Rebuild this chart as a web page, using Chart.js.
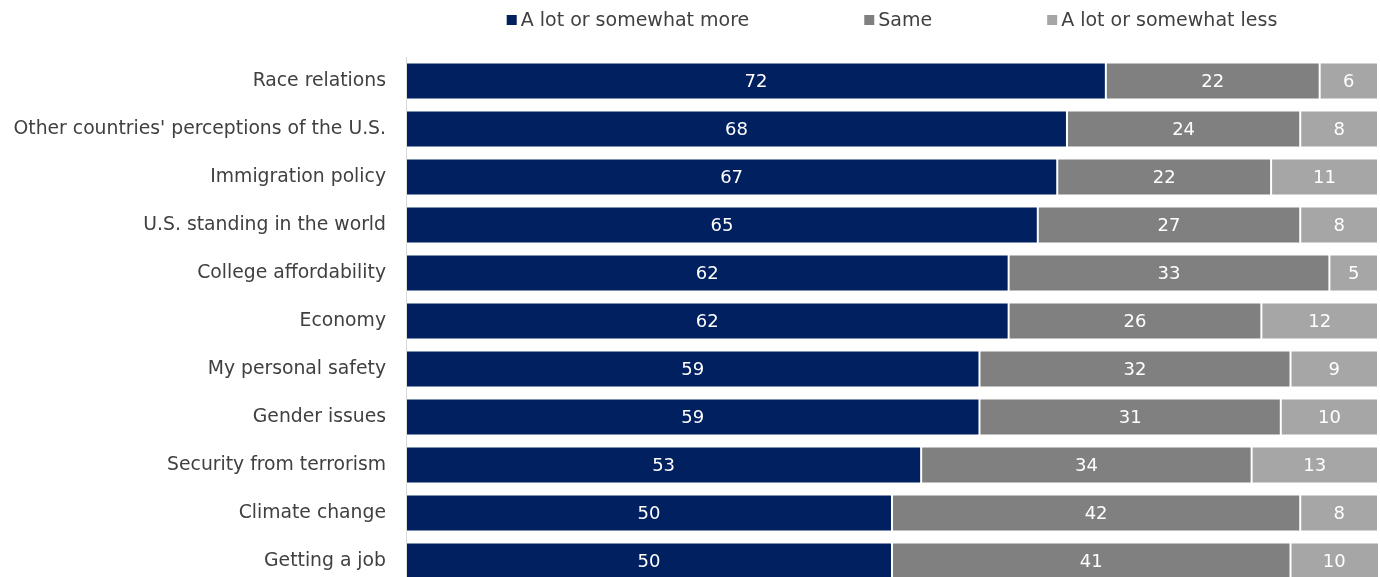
<!DOCTYPE html>
<html>
<head>
<meta charset="utf-8">
<script src="https://cdn.jsdelivr.net/npm/chart.js@4"></script>
<style>
  html, body { margin: 0; padding: 0; background: #fff; overflow: hidden; }
  canvas { display: block; }
</style>
</head>
<body>
<canvas id="graficoTemas" width="1380" height="585"></canvas>
<script>
// Temas e percentuais de cada resposta
const temas = [
  "Race relations",
  "Other countries' perceptions of the U.S.",
  "Immigration policy",
  "U.S. standing in the world",
  "College affordability",
  "Economy",
  "My personal safety",
  "Gender issues",
  "Security from terrorism",
  "Climate change",
  "Getting a job"
];
const maisImportante = [72, 68, 67, 65, 62, 62, 59, 59, 53, 50, 50];
const igual = [22, 24, 22, 27, 33, 26, 32, 31, 34, 42, 41];
const menosImportante = [6, 8, 11, 8, 5, 12, 9, 10, 13, 8, 10];

const rotulosSeries = ["A lot or somewhat more", "Same", "A lot or somewhat less"];
const coresSeries = ["#002060", "#808080", "#a6a6a6"];

const fonte = '"DejaVu Sans", sans-serif';

// Legenda desenhada no topo, centralizada sobre a área das barras
const legendaTopo = {
  id: "legendaTopo",
  afterDraw(chart) {
    const ctx = chart.ctx;
    const area = chart.chartArea;
    ctx.save();
    ctx.font = "19px " + fonte;
    ctx.textBaseline = "middle";
    const espaco = 115;
    const larguras = chart.data.datasets.map(ds => 14 + ctx.measureText(ds.label).width);
    const total = larguras.reduce((s, w) => s + w, 0) + espaco * (larguras.length - 1);
    let x = (area.left + area.right) / 2 - total / 2;
    const y = 20;
    chart.data.datasets.forEach((ds, i) => {
      ctx.fillStyle = ds.backgroundColor;
      ctx.fillRect(x, y - 5, 10, 10);
      ctx.fillStyle = "#404040";
      ctx.fillText(ds.label, x + 14, y + 1);
      x += larguras[i] + espaco;
    });
    ctx.restore();
  }
};

// Valores brancos no meio de cada segmento
const valoresNasBarras = {
  id: "valoresNasBarras",
  afterDatasetsDraw(chart) {
    const ctx = chart.ctx;
    ctx.save();
    ctx.font = "18px " + fonte;
    ctx.fillStyle = "#ffffff";
    ctx.textAlign = "center";
    ctx.textBaseline = "middle";
    chart.data.datasets.forEach((ds, i) => {
      chart.getDatasetMeta(i).data.forEach((barra, j) => {
        const cx = Math.min((barra.x + barra.base) / 2, (barra.base + chart.chartArea.right) / 2);
        ctx.fillText(ds.data[j], cx, barra.y + 1);
      });
    });
    ctx.restore();
  }
};

const graficoTemas = new Chart(document.getElementById("graficoTemas").getContext("2d"), {
  type: "bar",
  data: {
    labels: temas,
    datasets: [
      { label: rotulosSeries[0], data: maisImportante, backgroundColor: coresSeries[0] },
      { label: rotulosSeries[1], data: igual, backgroundColor: coresSeries[1] },
      { label: rotulosSeries[2], data: menosImportante, backgroundColor: coresSeries[2] }
    ]
  },
  options: {
    indexAxis: "y",
    responsive: false,
    animation: false,
    datasets: {
      bar: {
        barPercentage: 0.77,
        categoryPercentage: 1,
        borderWidth: 1,
        borderColor: "rgba(255,255,255,0.2)",
        borderSkipped: false
      }
    },
    layout: { padding: { top: 57, right: 2, bottom: 0, left: 0 } },
    plugins: {
      legend: { display: false },
      tooltip: { enabled: false }
    },
    scales: {
      x: {
        stacked: true,
        min: 0,
        max: 100,
        display: false
      },
      y: {
        stacked: true,
        // largura fixa do eixo e sem folga extra em cima/embaixo
        afterFit(scale) {
          scale.width = 406;
          scale.paddingTop = 0;
          scale.paddingBottom = 0;
        },
        grid: { display: false, drawTicks: false },
        border: { display: true, color: "#d9d9d9", width: 1 },
        ticks: {
          padding: 20,
          color: "#404040",
          font: { family: fonte, size: 18.8 }
        }
      }
    }
  },
  plugins: [legendaTopo, valoresNasBarras]
});
</script>
</body>
</html>
